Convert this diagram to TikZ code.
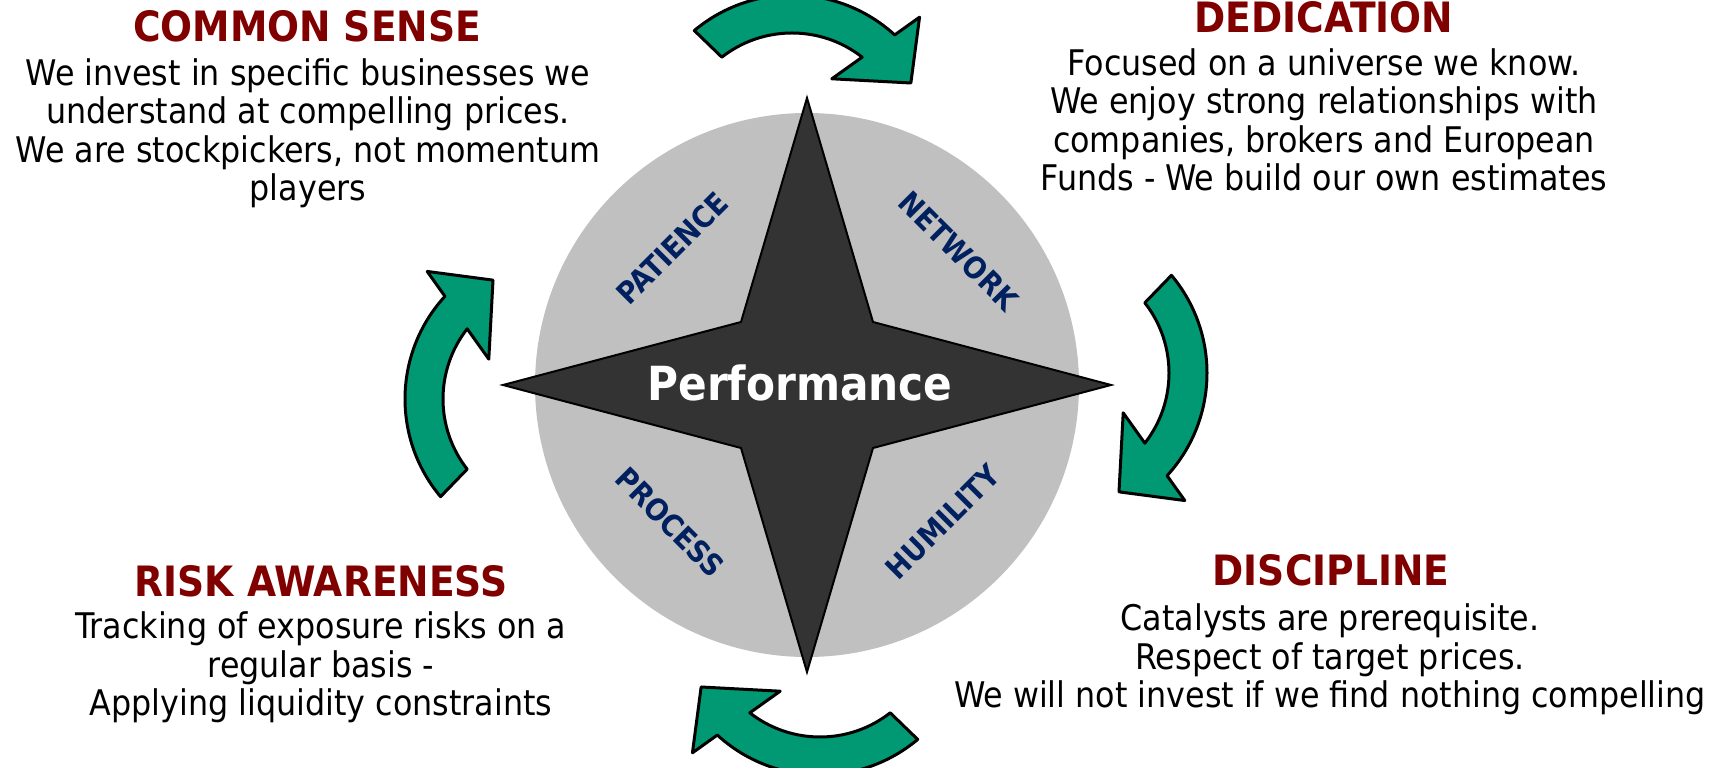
\documentclass[tikz,border=0pt]{standalone}
\usepackage{fontspec}
\IfFontExistsTF{DejaVu Sans Condensed}
  {\setmainfont{DejaVu Sans Condensed}}
  {\setmainfont{DejaVu Sans}}

\definecolor{arrowgreen}{RGB}{0,153,115}
\definecolor{titlered}{RGB}{128,0,0}
\definecolor{labelblue}{RGB}{0,32,96}
\definecolor{discgray}{RGB}{192,192,192}
\definecolor{stargray}{RGB}{51,51,51}

\tikzset{
  title/.style={font=\bfseries\fontsize{41.8}{44}\selectfont, text=titlered,
    anchor=base, inner sep=0pt},
  body/.style={font=\fontsize{35.3}{38.5}\selectfont, align=center,
    anchor=base, inner sep=0pt},
  quality/.style={font=\bfseries\fontsize{30}{32}\selectfont, text=labelblue,
    inner sep=0pt},
  cyclearrow/.style={fill=arrowgreen, draw=black, line width=3pt, line join=round},
  compass/.style={fill=stargray, draw=black, line width=2pt, line join=miter}
}

\begin{document}
\begin{tikzpicture}[x=1pt,y=1pt]
      \useasboundingbox (0,0) rectangle (1716,768);

      % grey disc behind the star
      \node[circle, fill=discgray, minimum size=544, inner sep=0pt] (disc) at (807,383) {};

      % four-pointed star
      \begin{scope}[shift={(807,383)}]
        \draw[compass] (0,287) -- (66,63) -- (304,0) -- (66,-63)
          -- (0,-287) -- (-66,-63) -- (-304,0) -- (-66,63) -- cycle;
      \end{scope}

      \node[font=\bfseries\fontsize{47}{50}\selectfont, text=white, anchor=base,
        inner sep=0pt] (perf) at (800,367) {Performance};

      % qualities in the disc
      \node[quality, rotate=45]  (patience) at (672,520) {PATIENCE};
      \node[quality, rotate=-45] (network)  at (959,517) {NETWORK};
      \node[quality, rotate=-45] (process)  at (670,246) {PROCESS};
      \node[quality, rotate=45]  (humility) at (943,246) {HUMILITY};

      % curved arrows round the disc
      \foreach \cx/\cy/\rot in {792/621/0, 1055/395/-90, 820/145/180, 557/369/90}{
        \begin{scope}[shift={(\cx,\cy)}, rotate=\rot]
          \draw[cyclearrow] (130:152) arc[start angle=130, end angle=47.5, radius=152]
            -- (45.5:182) -- (28.3:135) -- (59.7:79) -- (52:114)
            arc[start angle=52, end angle=128, radius=114] -- cycle;
        \end{scope}
      }

      % corner texts (body nodes sit on their last line)
      \node[title] (sense) at (307,726) {COMMON SENSE};
      \node[body] (sensetxt) at (308,567) {We invest in specific businesses we\\
        understand at compelling prices.\\We are stockpickers, not momentum\\players};

      \node[title] (dedic) at (1324,735) {DEDICATION};
      \node[body] (dedictxt) at (1324,577) {Focused on a universe we know.\\
        We enjoy strong relationships with\\companies, brokers and European\\
        Funds - We build our own estimates};

      \node[title] (risk) at (321,171) {RISK AWARENESS};
      \node[body] (risktxt) at (321,52) {Tracking of exposure risks on a\\
        regular basis -\\Applying liquidity constraints};

      \node[title] (discip) at (1331,182) {DISCIPLINE};
      \node[body] (disciptxt) at (1330,60) {Catalysts are prerequisite.\\
        Respect of target prices.\\We will not invest if we find nothing compelling};

\end{tikzpicture}
\end{document}
